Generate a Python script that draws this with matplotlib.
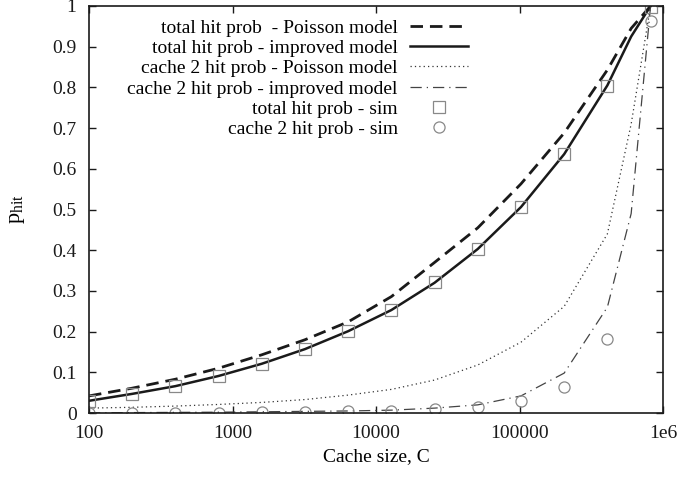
import matplotlib
matplotlib.use('Agg')
import matplotlib.pyplot as plt
from matplotlib.ticker import FixedLocator, FixedFormatter, NullLocator

# model curves sampled at each doubling plus one extra point near the top
cache_model = [100, 200, 400, 800, 1600, 3200, 6400, 12800, 25600, 51200,
               102400, 204800, 409600, 600000, 819200]
total_poisson = [0.042, 0.061, 0.083, 0.110, 0.143, 0.180, 0.224, 0.286, 0.370,
                 0.455, 0.563, 0.688, 0.843, 0.945, 1.0]
total_improved = [0.030, 0.047, 0.066, 0.091, 0.121, 0.157, 0.201, 0.253, 0.320,
                  0.403, 0.506, 0.636, 0.805, 0.925, 1.0]
c2_poisson = [0.012, 0.014, 0.017, 0.021, 0.026, 0.033, 0.044, 0.058, 0.081,
              0.118, 0.174, 0.262, 0.440, 0.710, 1.0]
c2_improved = [0.0005, 0.001, 0.0015, 0.002, 0.003, 0.004, 0.005, 0.007, 0.012,
               0.020, 0.042, 0.098, 0.260, 0.490, 1.0]

# simulation points
cache_sim = [100, 200, 400, 800, 1600, 3200, 6400, 12800, 25600, 51200,
             102400, 204800, 409600, 819200]
total_sim = [0.029, 0.047, 0.066, 0.091, 0.121, 0.157, 0.201, 0.254, 0.321,
             0.403, 0.506, 0.636, 0.804, 0.998]
c2_sim = [0.001, 0.001, 0.001, 0.001, 0.002, 0.003, 0.004, 0.005, 0.009,
          0.015, 0.029, 0.064, 0.181, 0.963]

xtick_vals = [100, 1000, 10000, 100000, 1000000]
xtick_labels = ['100', '1000', '10000', '100000', '1e6']
ytick_vals = [0, 0.1, 0.2, 0.3, 0.4, 0.5, 0.6, 0.7, 0.8, 0.9, 1]
ytick_labels = ['0', '0.1', '0.2', '0.3', '0.4', '0.5', '0.6', '0.7', '0.8', '0.9', '1']

plt.rcParams['font.family'] = ['Liberation Serif', 'DejaVu Serif']
plt.rcParams['mathtext.fontset'] = 'custom'
plt.rcParams['mathtext.rm'] = 'Liberation Serif'
plt.rcParams['mathtext.it'] = 'Liberation Serif:italic'

fig = plt.figure(figsize=(6.78, 4.79), dpi=100)
ax = fig.add_axes([89 / 678, 1 - 413 / 479, 574 / 678, 407 / 479])

ax.plot(cache_model, total_poisson, color='#1a1a1a', lw=2.0, ls=(0, (4.5, 2.5)),
        label='total hit prob  - Poisson model')
ax.plot(cache_model, total_improved, color='#1a1a1a', lw=1.8, ls='-',
        label='total hit prob - improved model')
ax.plot(cache_model, c2_poisson, color='#333333', lw=0.9, ls=(0, (1, 2.5)),
        label='cache 2 hit prob - Poisson model')
ax.plot(cache_model, c2_improved, color='#444444', lw=0.9, ls=(0, (9, 4, 1, 4)),
        label='cache 2 hit prob - improved model')
ax.plot(cache_sim, total_sim, ls='none', marker='s', ms=8, mfc='none',
        mec='#888888', mew=0.9, label='total hit prob - sim')
ax.plot(cache_sim, c2_sim, ls='none', marker='o', ms=8, mfc='none',
        mec='#888888', mew=0.9, label='cache 2 hit prob - sim')

ax.set_xscale('log')
ax.set_xlim(100, 1000000)
ax.set_ylim(0, 1)
ax.xaxis.set_major_locator(FixedLocator(xtick_vals))
ax.xaxis.set_major_formatter(FixedFormatter(xtick_labels))
ax.xaxis.set_minor_locator(NullLocator())
ax.set_yticks(ytick_vals)
ax.set_yticklabels(ytick_labels)

ax.tick_params(direction='in', length=5, width=1, top=True, right=True,
               labelsize=14, pad=9, colors='#1a1a1a')
for s in ax.spines.values():
    s.set_linewidth(1.2)
    s.set_color('#1a1a1a')

ax.set_xlabel('Cache size, C', fontsize=14, labelpad=4)
ax.set_ylabel(r'p$_{\mathrm{hit}}$', fontsize=16, labelpad=18)

ax.legend(loc='upper right', bbox_to_anchor=(0.66, 0.968), markerfirst=False,
          frameon=False, fontsize=14, handlelength=3.0, handletextpad=0.6,
          labelspacing=0.14, borderpad=0, borderaxespad=0)

fig.savefig('out.png', dpi=100)
